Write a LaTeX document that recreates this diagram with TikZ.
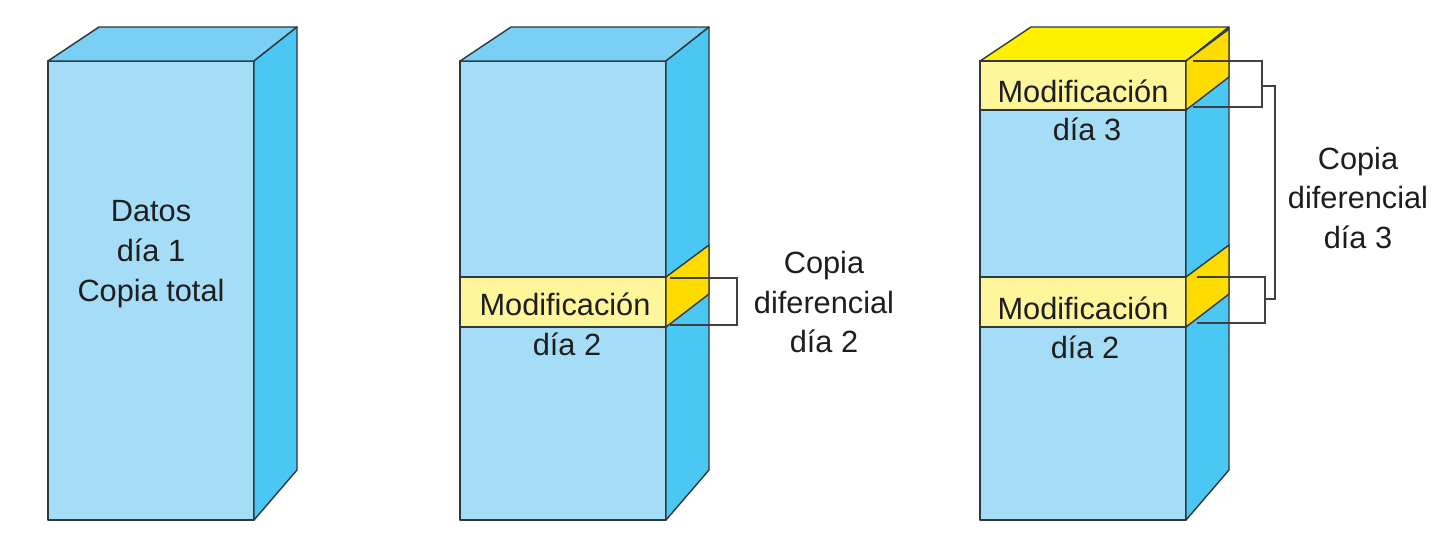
\documentclass[tikz,border=0pt]{standalone}
\usepackage{fontspec}
\setmainfont{Liberation Sans}
\usepackage{tikz}
\usetikzlibrary{positioning, calc}
\definecolor{frente}{RGB}{166,221,246}
\definecolor{tapa}{RGB}{122,208,244}
\definecolor{lado}{RGB}{74,199,242}
\definecolor{amfrente}{RGB}{255,246,156}
\definecolor{amtapa}{RGB}{255,240,0}
\definecolor{amlado}{RGB}{255,220,0}
\definecolor{borde}{RGB}{45,55,60}
\definecolor{texto}{RGB}{30,30,30}
\tikzset{
  cara/.style={draw=borde, line width=0.8pt, line join=round},
  llave/.style={draw=black!75, line width=0.6pt},
  etiqueta/.style={align=center, inner sep=0pt, text=texto, font=\fontsize{17.5}{22.7}\selectfont}
}
% caja: x de la cara frontal, color de la tapa
\newcommand{\caja}[2]{%
  \fill[frente, cara] (#1,61) rectangle ++(206,459);
  \fill[#2, cara] (#1,61) -- ++(51,-34) -- ++(198,0) -- ++(-43,34) -- cycle;
  \fill[lado, cara] (#1+206,61) -- ++(43,-34) -- ++(0,443) -- ++(-43,50) -- cycle;
}
% banda: x de la cara frontal, y arriba, y abajo
\newcommand{\banda}[3]{%
  \fill[amfrente, cara] (#1,#2) rectangle (#1+206,#3);
  \fill[amlado, cara] (#1+206,#2) -- ++(43,-32) -- (#1+249,#3-33) -- (#1+206,#3) -- cycle;
}

\begin{document}
\begin{tikzpicture}[x=0.02cm, y=-0.02cm]
        \useasboundingbox (0,0) rectangle (1452,535);

        % Cajas
        \caja{48}{tapa}
        \caja{460}{tapa}
        \caja{980}{amtapa}

        % Modificaciones
        \banda{460}{277}{327}
        \banda{980}{61}{110}
        \banda{980}{277}{327}

        % Textos
        \node[etiqueta] (total) at (151,254) {Datos\\día 1\\Copia total};
        \node[etiqueta] (mod2)  at (565,304) {Modificación};
        \node[etiqueta] (dia2)  at (567,344) {día 2};
        \node[etiqueta] (mod3)  at (1083,91) {Modificación};
        \node[etiqueta] (dia3)  at (1087,129) {día 3};
        \node[etiqueta] (mod3b) at (1083,308) {Modificación};
        \node[etiqueta] (dia3b) at (1085,347) {día 2};
        \node[etiqueta] (copia2) at (824,302) {Copia\\diferencial\\día 2};
        \node[etiqueta] (copia3) at (1358,198) {Copia\\diferencial\\día 3};

        % Llaves
        \coordinate (a2) at (670,278);
        \coordinate (b2) at (670,325);
        \draw[llave] (a2) -- ++(67,0) |- (b2);

        \coordinate (a3) at (1193,61);
        \coordinate (b3) at (1193,107);
        \draw[llave] (a3) -- ++(69,0) |- (b3);
        \coordinate (c3) at (1197,277);
        \coordinate (d3) at (1197,323);
        \draw[llave] (c3) -- ++(68,0) |- (d3);
        \coordinate (e3) at (1262,86);
        \coordinate (f3) at (1265,299);
        \draw[llave] (e3) -- ++(13,0) |- (f3);
    \end{tikzpicture}
\end{document}
